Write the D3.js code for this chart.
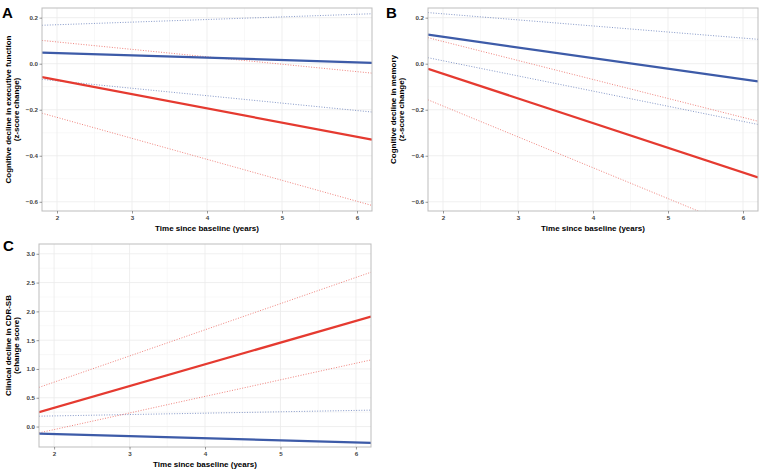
<!DOCTYPE html>
<html>
<head>
<meta charset="utf-8">
<script src="https://cdn.jsdelivr.net/npm/d3@7"></script>
<style>
  body { margin: 0; background: #fff; }
  svg { display: block; font-family: "Liberation Sans", Arial, sans-serif; }
</style>
</head>
<body>
<svg id="chart" width="761" height="471"></svg>
<script>
// time points at the edges of each panel (lines are straight fits)
const timeX = [1.8, 6.2];
const xTicks = [2, 3, 4, 5, 6];

// panel A — executive function
const aBlue = [0.048, 0.004];
const aBlueHi = [0.167, 0.217];
const aBlueLo = [-0.068, -0.21];
const aRed = [-0.058, -0.33];
const aRedHi = [0.101, -0.041];
const aRedLo = [-0.215, -0.616];

// panel B — memory
const bBlue = [0.126, -0.077];
const bBlueHi = [0.222, 0.106];
const bBlueLo = [0.026, -0.264];
const bRed = [-0.022, -0.494];
const bRedHi = [0.113, -0.25];
const bRedLo = [-0.157, -0.747];

// panel C — CDR-SB
const cBlue = [-0.122, -0.285];
const cBlueHi = [0.18, 0.285];
const cBlueLo = [-0.43, -0.86];
const cRed = [0.25, 1.91];
const cRedHi = [0.68, 2.68];
const cRedLo = [-0.11, 1.157];

const zTicks = [0.2, 0.0, -0.2, -0.4, -0.6];
const cdrTicks = [0.0, 0.5, 1.0, 1.5, 2.0, 2.5, 3.0];

const BLUE = "#3d5ba8", RED = "#e53a30";

const panels = [
  { tag: "A", box: [42, 8, 372, 211], y: [-0.64, 0.242], ticks: zTicks, minor: [0.1, -0.1, -0.3, -0.5],
    title: ["Cognitive decline in executive function", "(z-score change)"], tagPos: [2, 18], titleX: 8,
    series: [[aBlueHi, BLUE, 1], [aBlueLo, BLUE, 1], [aRedHi, RED, 1], [aRedLo, RED, 1], [aBlue, BLUE, 0], [aRed, RED, 0]] },
  { tag: "B", box: [428, 8, 758, 211], y: [-0.64, 0.242], ticks: zTicks, minor: [0.1, -0.1, -0.3, -0.5],
    title: ["Cognitive decline in memory", "(z-score change)"], tagPos: [386, 18], titleX: 393,
    series: [[bBlueHi, BLUE, 1], [bBlueLo, BLUE, 1], [bRedHi, RED, 1], [bRedLo, RED, 1], [bBlue, BLUE, 0], [bRed, RED, 0]] },
  { tag: "C", box: [39, 244, 371, 447], y: [-0.355, 3.17], ticks: cdrTicks, minor: [0.25, 0.75, 1.25, 1.75, 2.25, 2.75],
    title: ["Clinical decline in CDR-SB", "(change score)"], tagPos: [3, 251], titleX: 8,
    series: [[cBlueHi, BLUE, 1], [cBlueLo, BLUE, 1], [cRedHi, RED, 1], [cRedLo, RED, 1], [cBlue, BLUE, 0], [cRed, RED, 0]] }
];

const svg = d3.select("#chart");

panels.forEach((p, i) => {
  const [x0, y0, x1, y1] = p.box;
  const x = d3.scaleLinear().domain([1.8, 6.2]).range([x0, x1]);
  const y = d3.scaleLinear().domain(p.y).range([y1, y0]);
  const g = svg.append("g");

  g.append("clipPath").attr("id", "clip" + i)
    .append("rect").attr("x", x0).attr("y", y0).attr("width", x1 - x0).attr("height", y1 - y0);

  // grid
  const minorX = [2.5, 3.5, 4.5, 5.5];
  g.selectAll(".mx").data(minorX).enter().append("line")
    .attr("x1", d => x(d)).attr("x2", d => x(d)).attr("y1", y0).attr("y2", y1)
    .attr("stroke", "#f4f4f4").attr("stroke-width", 0.6);
  g.selectAll(".my").data(p.minor).enter().append("line")
    .attr("y1", d => y(d)).attr("y2", d => y(d)).attr("x1", x0).attr("x2", x1)
    .attr("stroke", "#f4f4f4").attr("stroke-width", 0.6);
  g.selectAll(".gx").data(xTicks).enter().append("line")
    .attr("x1", d => x(d)).attr("x2", d => x(d)).attr("y1", y0).attr("y2", y1)
    .attr("stroke", "#ebebeb").attr("stroke-width", 0.8);
  g.selectAll(".gy").data(p.ticks).enter().append("line")
    .attr("y1", d => y(d)).attr("y2", d => y(d)).attr("x1", x0).attr("x2", x1)
    .attr("stroke", "#ebebeb").attr("stroke-width", 0.8);

  // lines
  const line = d3.line().x((d, j) => x(timeX[j])).y(d => y(d));
  const lg = g.append("g").attr("clip-path", `url(#clip${i})`);
  p.series.forEach(([vals, col, dotted]) => {
    lg.append("path").datum(vals).attr("d", line).attr("fill", "none")
      .attr("stroke", col)
      .attr("stroke-width", dotted ? 0.9 : 2.2)
      .attr("stroke-opacity", dotted ? 0.7 : 1)
      .attr("stroke-dasharray", dotted ? "1,1.6" : null);
  });

  // border
  g.append("rect").attr("x", x0).attr("y", y0).attr("width", x1 - x0).attr("height", y1 - y0)
    .attr("fill", "none").attr("stroke", "#bdbdbd").attr("stroke-width", 1);

  // axes
  const ax = g.append("g").attr("transform", `translate(0,${y1})`)
    .call(d3.axisBottom(x).tickValues(xTicks).tickFormat(d3.format("d")).tickSize(2.5).tickPadding(2));
  const ay = g.append("g").attr("transform", `translate(${x0},0)`)
    .call(d3.axisLeft(y).tickValues(p.ticks).tickFormat(d3.format(".1f")).tickSize(2.5).tickPadding(1.5));
  [ax, ay].forEach(a => {
    a.select(".domain").remove();
    a.selectAll(".tick line").attr("stroke", "#555").attr("stroke-width", 0.6);
    a.selectAll(".tick text").attr("fill", "#444").style("font-size", "6.2px").style("font-weight", "bold");
  });

  // titles
  g.append("text").attr("x", (x0 + x1) / 2).attr("y", y1 + 20)
    .attr("text-anchor", "middle").style("font-size", "8px").style("font-weight", "bold")
    .text("Time since baseline (years)");
  const cy = (y0 + y1) / 2;
  p.title.forEach((t, k) => {
    g.append("text").attr("transform", `translate(${p.titleX + k * 8 + 3},${cy}) rotate(-90)`)
      .attr("text-anchor", "middle").style("font-size", "8px").style("font-weight", "bold")
      .text(t);
  });

  g.append("text").attr("x", p.tagPos[0]).attr("y", p.tagPos[1])
    .style("font-size", "15px").style("font-weight", "bold").text(p.tag);
});
</script>
</body>
</html>
